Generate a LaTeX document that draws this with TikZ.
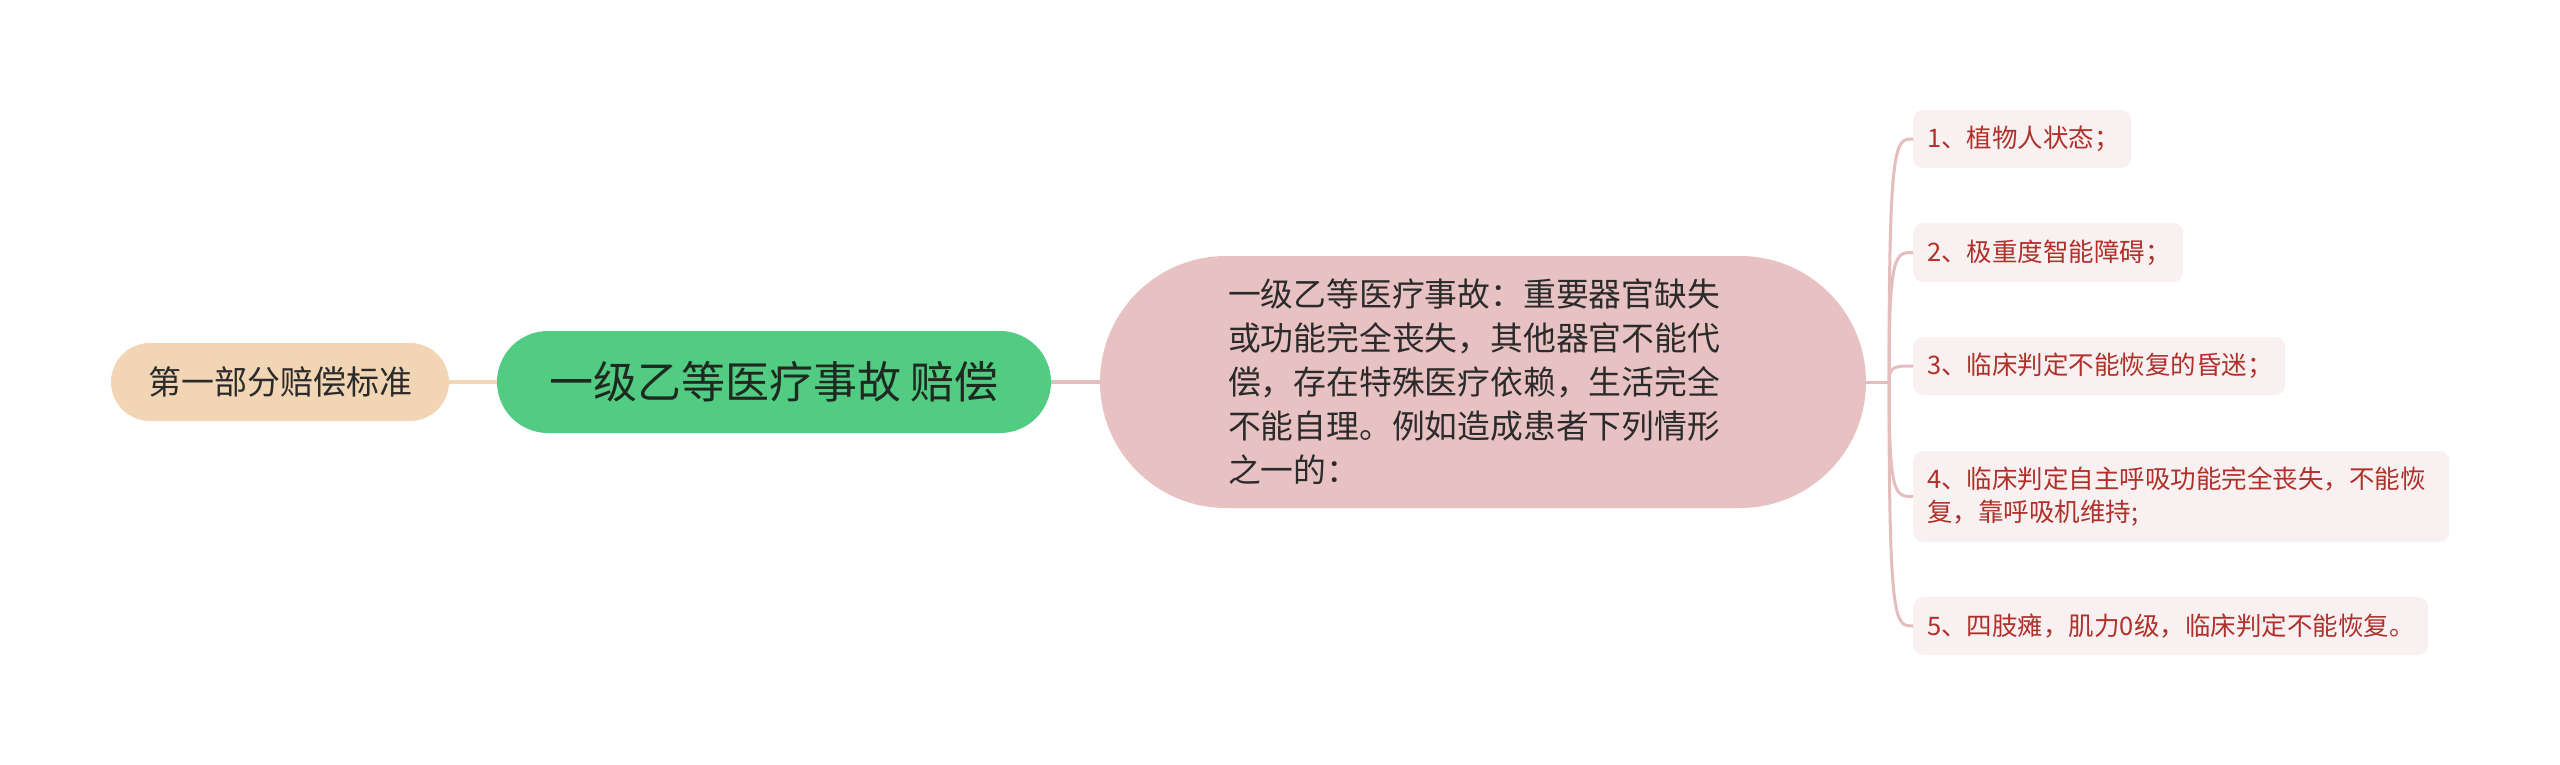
\documentclass[tikz,border=0pt]{standalone}
\usepackage{fontspec}
\setmainfont{Noto Sans CJK SC}
\definecolor{tanfill}{HTML}{F2D5B4}
\definecolor{tanline}{HTML}{F2D5B4}
\definecolor{greenfill}{HTML}{52CC83}
\definecolor{pinkfill}{HTML}{E8C2C2}
\definecolor{pinkline}{HTML}{E4BDBD}
\definecolor{leaffill}{HTML}{F9F1F1}
\definecolor{leaftext}{HTML}{B0302A}
\definecolor{darktext}{HTML}{2B2B2B}
\definecolor{greentext}{HTML}{1E2A20}
\tikzset{
  tannode/.style={draw=none, fill=tanfill, rounded corners=39pt, minimum width=338pt, minimum height=78pt, inner sep=0pt, text=darktext, font=\fontsize{33}{40}\selectfont},
  greennode/.style={draw=none, fill=greenfill, rounded corners=51pt, minimum width=554pt, minimum height=102pt, inner sep=0pt, text=greentext, font=\fontsize{44}{52}\selectfont},
  pinknode/.style={draw=none, fill=pinkfill, rounded corners=126pt, minimum width=766pt, minimum height=252pt, inner sep=0pt, text=darktext, align=left, text width=510pt, font=\fontsize{32.8}{44}\selectfont},
  leafnode/.style={draw=none, fill=leaffill, rounded corners=10pt, anchor=west, inner xsep=14pt, inner ysep=0pt, align=left, text=leaftext, font=\fontsize{25.5}{33}\selectfont},
  tanconn/.style={draw=tanline, line width=3.5pt},
  pinkconn/.style={draw=pinkline, line width=3.5pt},
  leafconn/.style={draw=pinkline, line width=3pt},
}
\begin{document}
\begin{tikzpicture}[x=1pt, y=-1pt]
\useasboundingbox (0,0) rectangle (2560,765);
\fill[white] (0,0) rectangle (2560,765);

\node[tannode] (t) at (280,382) {第一部分赔偿标准};
\node[greennode] (g) at (774,382) {一级乙等医疗事故 赔偿};
\node[pinknode] (p) at (1483,382) {一级乙等医疗事故：重要器官缺失\\或功能完全丧失，其他器官不能代\\偿，存在特殊医疗依赖，生活完全\\不能自理。例如造成患者下列情形\\之一的：};

\node[leafnode, text width=190pt, minimum height=58pt] (l1) at (1913,139) {1、植物人状态；};
\node[leafnode, text width=242pt, minimum height=59pt] (l2) at (1913,252.5) {2、极重度智能障碍；};
\node[leafnode, text width=344pt, minimum height=58pt] (l3) at (1913,366) {3、临床判定不能恢复的昏迷；};
\node[leafnode, text width=508pt, minimum height=91pt] (l4) at (1913,496.5) {4、临床判定自主呼吸功能完全丧失，不能恢\\复，靠呼吸机维持;};
\node[leafnode, text width=487pt, minimum height=58pt] (l5) at (1913,626) {5、四肢瘫，肌力0级，临床判定不能恢复。};

\coordinate (j) at (1889,382);

\draw[tanconn] (t.east) -- (g.west);
\draw[pinkconn] (g.east) -- (p.west);
\draw[leafconn] (p.east) -- (j);
\foreach \n in {l1,l2,l3,l4,l5}{
  \draw[leafconn] (j) .. controls (j |- \n.west) and ([xshift=-18pt]\n.west) .. (\n.west);
}
\end{tikzpicture}
\end{document}
